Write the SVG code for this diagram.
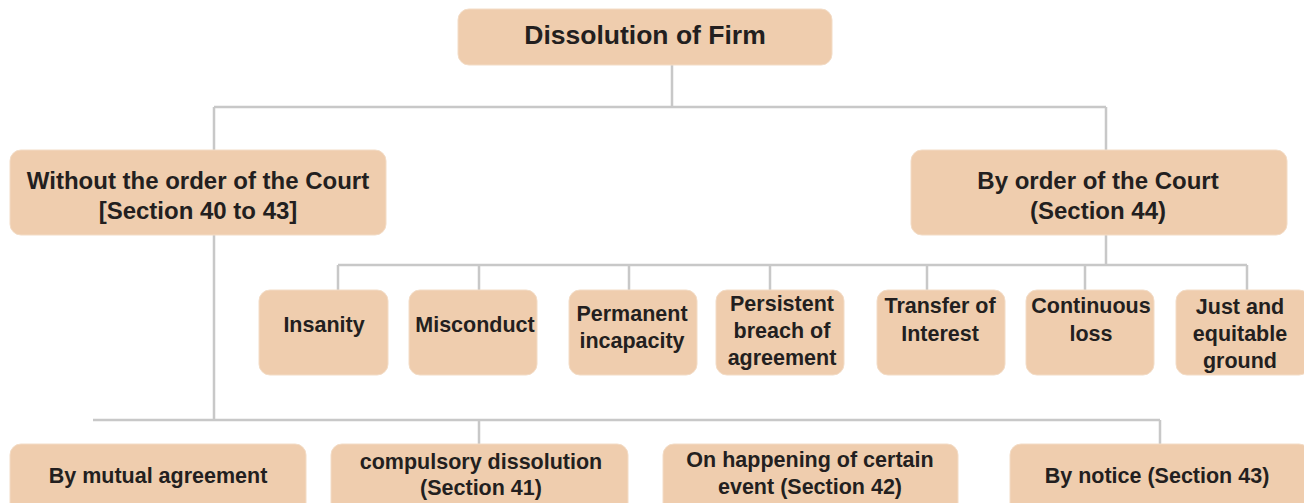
<svg xmlns="http://www.w3.org/2000/svg" width="1304" height="503" viewBox="0 0 1304 503">
<style>
.box{fill:#EFCDAE;stroke:#F3DCC6;stroke-width:1}
.t{font-family:"Liberation Sans",Arial,sans-serif;font-weight:bold;fill:#231F20;text-anchor:middle}
.h{font-size:26.5px}
.m{font-size:24px}
.s{font-size:21.5px}
.c{stroke:#C8C8C8;stroke-width:2.5;fill:none}
</style>
<rect width="1304" height="503" fill="#FFFFFF"/>
<g id="connectors">
<path class="c" d="M672 65V107M214 107H1106M214 107V150M1106 107V150"/>
<path class="c" d="M1106 235V265M338 265H1247M338 265V290M479 265V290M629 265V290M770 265V290M927 265V290M1085 265V290M1247 265V290"/>
<path class="c" d="M214 235V420M93 420H1160M479 420V444M1160 420V444"/>
</g>
<g id="root"><rect class="box" x="458" y="9" width="374" height="56" rx="11"/><text class="t h" x="645" y="44">Dissolution of Firm</text></g>
<g id="without"><rect class="box" x="10" y="150" width="376" height="85" rx="11"/><text class="t m" x="198" y="189">Without the order of the Court</text><text class="t m" x="198" y="219">[Section 40 to 43]</text></g>
<g id="byorder"><rect class="box" x="911" y="150" width="376" height="85" rx="11"/><text class="t m" x="1098" y="189">By order of the Court</text><text class="t m" x="1098" y="219">(Section 44)</text></g>
<g id="insanity"><rect class="box" x="259" y="290" width="129" height="85" rx="11"/><text class="t s" x="324" y="332">Insanity</text></g>
<g id="misconduct"><rect class="box" x="409" y="290" width="128" height="85" rx="11"/><text class="t s" x="475" y="332">Misconduct</text></g>
<g id="permanent"><rect class="box" x="569" y="290" width="128" height="85" rx="11"/><text class="t s" x="632" y="321">Permanent</text><text class="t s" x="632" y="348">incapacity</text></g>
<g id="persistent"><rect class="box" x="716" y="290" width="128" height="85" rx="11"/><text class="t s" x="782" y="311">Persistent</text><text class="t s" x="782" y="338">breach of</text><text class="t s" x="782" y="365">agreement</text></g>
<g id="transfer"><rect class="box" x="877" y="290" width="128" height="85" rx="11"/><text class="t s" x="940" y="313">Transfer of</text><text class="t s" x="940" y="341">Interest</text></g>
<g id="continuous"><rect class="box" x="1026" y="290" width="128" height="85" rx="11"/><text class="t s" x="1091" y="313">Continuous</text><text class="t s" x="1091" y="341">loss</text></g>
<g id="just"><rect class="box" x="1176" y="290" width="134" height="85" rx="11"/><text class="t s" x="1240" y="314">Just and</text><text class="t s" x="1240" y="341">equitable</text><text class="t s" x="1240" y="368">ground</text></g>
<g id="mutual"><rect class="box" x="10" y="444" width="296" height="70" rx="11"/><text class="t s" x="158" y="483">By mutual agreement</text></g>
<g id="compulsory"><rect class="box" x="331" y="444" width="297" height="70" rx="11"/><text class="t s" x="481" y="469">compulsory dissolution</text><text class="t s" x="481" y="495">(Section 41)</text></g>
<g id="happening"><rect class="box" x="663" y="444" width="295" height="70" rx="11"/><text class="t s" x="810" y="467">On happening of certain</text><text class="t s" x="810" y="494">event (Section 42)</text></g>
<g id="notice"><rect class="box" x="1010" y="444" width="300" height="70" rx="11"/><text class="t s" x="1157" y="483">By notice (Section 43)</text></g>
</svg>
